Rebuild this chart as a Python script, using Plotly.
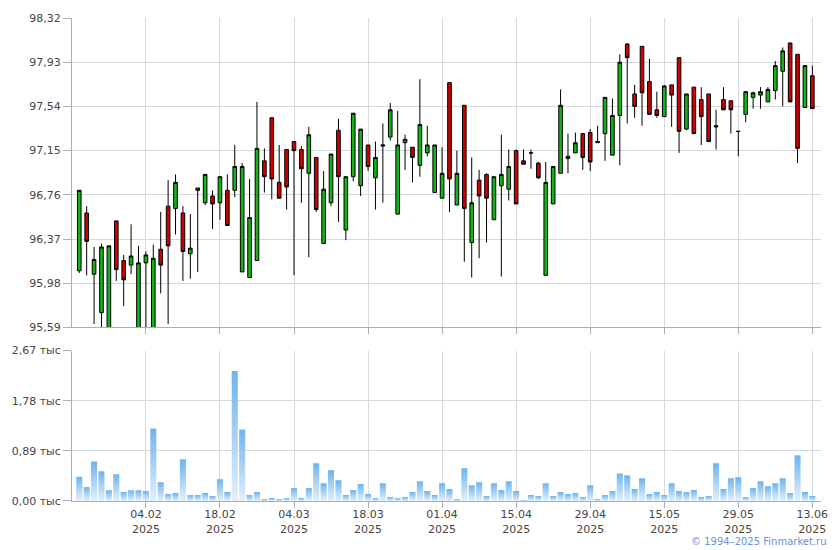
import plotly.graph_objects as go

# ---- data ----
open_ = [96.09, 96.60, 96.06, 95.72, 95.55, 96.53, 96.18, 96.14, 95.55, 96.16,
         95.55, 96.28, 96.66, 96.64, 96.60, 96.24, 96.80, 96.69, 96.75, 96.69,
         96.80, 96.80, 96.08, 96.03, 96.18, 97.06, 97.44, 96.87, 97.16, 97.23,
         97.16, 96.95, 97.09, 96.33, 96.69, 97.33, 96.45, 96.92, 96.84, 97.20,
         96.91, 97.19, 97.27, 96.59, 97.22, 97.18, 97.02, 97.13, 96.78, 96.73,
         97.75, 96.67, 97.55, 96.34, 96.89, 96.94, 96.54, 96.84, 96.81, 97.15,
         97.06, 97.13, 97.04, 96.05, 96.68, 96.95, 97.08, 97.13, 97.30, 97.31,
         97.22, 97.30, 97.11, 97.46, 98.09, 97.65, 98.07, 97.76, 97.51, 97.45,
         97.73, 97.97, 97.34, 97.71, 97.60, 97.65, 97.37, 97.60, 97.59, 97.32,
         97.47, 97.62, 97.64, 97.58, 97.68, 97.85, 98.10, 98.00, 97.53, 97.81]

high = [96.80, 96.66, 96.30, 96.33, 96.31, 96.53, 96.23, 96.50, 96.31, 96.26,
        96.32, 96.61, 96.89, 96.94, 96.66, 96.59, 96.82, 96.94, 96.80, 96.92,
        96.94, 97.20, 97.04, 96.90, 97.58, 97.17, 97.44, 97.20, 97.16, 97.23,
        97.19, 97.36, 97.09, 96.97, 97.12, 97.43, 96.92, 97.48, 97.34, 97.20,
        97.23, 97.39, 97.57, 97.50, 97.29, 97.18, 97.78, 97.37, 97.20, 97.18,
        97.75, 97.15, 97.55, 97.09, 96.98, 96.95, 96.92, 97.29, 97.16, 97.16,
        97.16, 97.16, 97.05, 97.05, 97.01, 97.69, 97.30, 97.31, 97.30, 97.34,
        97.37, 97.62, 97.61, 98.00, 98.10, 97.73, 98.07, 97.96, 97.67, 97.73,
        97.73, 97.97, 97.65, 97.71, 97.71, 97.65, 97.51, 97.71, 97.59, 97.32,
        97.67, 97.67, 97.71, 97.71, 97.94, 98.06, 98.10, 98.00, 97.90, 97.90]

low = [96.07, 96.05, 95.62, 95.50, 95.50, 96.00, 95.78, 96.06, 95.50, 95.50,
       95.50, 95.89, 95.62, 96.41, 96.00, 96.02, 96.08, 96.67, 96.46, 96.54,
       96.49, 96.74, 96.08, 96.03, 96.18, 96.78, 96.72, 96.73, 96.63, 96.05,
       96.69, 96.21, 96.61, 96.33, 96.66, 96.52, 96.36, 96.88, 96.75, 96.97,
       96.63, 96.69, 97.24, 96.59, 96.98, 96.87, 96.92, 97.10, 96.78, 96.73,
       96.61, 96.67, 96.17, 96.03, 96.20, 96.34, 96.54, 96.04, 96.71, 96.68,
       97.03, 96.99, 96.90, 96.05, 96.68, 96.95, 96.95, 97.13, 96.98, 96.97,
       97.22, 97.06, 97.11, 97.02, 97.39, 97.44, 97.37, 97.47, 97.44, 97.45,
       97.36, 97.13, 97.33, 97.30, 97.20, 97.23, 97.16, 97.51, 97.30, 97.10,
       97.40, 97.52, 97.52, 97.58, 97.60, 97.54, 97.58, 97.04, 97.53, 97.52]

close = [96.80, 96.35, 96.19, 96.30, 96.31, 96.10, 96.01, 96.22, 96.16, 96.23,
         96.20, 96.14, 96.31, 96.87, 96.26, 96.29, 96.82, 96.94, 96.68, 96.92,
         96.49, 97.01, 97.01, 96.56, 97.17, 96.92, 96.90, 96.73, 96.83, 97.15,
         96.99, 97.29, 96.63, 96.81, 97.12, 96.92, 96.92, 97.48, 97.34, 97.01,
         97.09, 97.20, 97.51, 97.20, 97.25, 97.09, 97.38, 97.20, 97.20, 96.95,
         96.90, 96.95, 96.64, 96.69, 96.75, 96.73, 96.92, 96.94, 97.01, 96.68,
         97.03, 97.13, 96.91, 96.87, 97.01, 97.55, 97.10, 97.22, 97.09, 97.05,
         97.23, 97.62, 97.46, 97.93, 97.97, 97.54, 97.66, 97.47, 97.46, 97.72,
         97.64, 97.32, 97.65, 97.30, 97.45, 97.23, 97.36, 97.51, 97.51, 97.32,
         97.67, 97.66, 97.67, 97.69, 97.90, 98.03, 97.58, 97.17, 97.90, 97.52]

volume_k = [0.43, 0.25, 0.70, 0.53, 0.19, 0.475, 0.16, 0.19, 0.19, 0.176,
            1.285, 0.334, 0.123, 0.14, 0.74, 0.106, 0.106, 0.14, 0.088, 0.387,
            0.158, 2.306, 1.267, 0.106, 0.158, 0.035, 0.053, 0.035, 0.053, 0.23,
            0.053, 0.23, 0.67, 0.317, 0.546, 0.37, 0.106, 0.194, 0.30, 0.123,
            0.053, 0.317, 0.07, 0.053, 0.07, 0.158, 0.352, 0.176, 0.106, 0.317,
            0.211, 0.035, 0.58, 0.28, 0.334, 0.088, 0.317, 0.194, 0.352, 0.176,
            0.018, 0.106, 0.088, 0.317, 0.088, 0.158, 0.123, 0.14, 0.07, 0.28,
            0.035, 0.106, 0.176, 0.49, 0.458, 0.211, 0.405, 0.123, 0.158, 0.106,
            0.317, 0.176, 0.158, 0.194, 0.07, 0.088, 0.67, 0.211, 0.405, 0.422,
            0.07, 0.229, 0.352, 0.264, 0.317, 0.405, 0.14, 0.81, 0.158, 0.088]

# every 10th trading day (starting at day 10) is labelled
date_labels = ["04.02", "18.02", "04.03", "18.03", "01.04",
               "15.04", "29.04", "15.05", "29.05", "13.06"]
year_label = "2025"
price_ticks = [95.59, 95.98, 96.37, 96.76, 97.15, 97.54, 97.93, 98.32]
volume_ticks = [0.00, 0.89, 1.78, 2.67]
volume_tick_labels = ["0,00 тыс", "0,89 тыс", "1,78 тыс", "2,67 тыс"]

# ---- figure ----
n = len(close)
days = list(range(n))
tick_pos = [9 + 10 * k for k in range(len(date_labels))]
tick_txt = [f"{d}<br>{year_label}" for d in date_labels]

GRID = "#d4d9de"
AXIS = "#a9aeb8"
xr = [-0.98, 100.17]

fig = go.Figure()
fig.add_trace(go.Candlestick(
    x=days, open=open_, high=high, low=low, close=close,
    increasing=dict(line=dict(color="#000000", width=1), fillcolor="#14b414"),
    decreasing=dict(line=dict(color="#000000", width=1), fillcolor="#cc0000"),
    whiskerwidth=0, showlegend=False, xaxis="x", yaxis="y",
))

half = 0.41
for i, v in enumerate(volume_k):
    fig.add_trace(go.Scatter(
        x=[i - half, i - half, i + half, i + half, i - half],
        y=[0, v, v, 0, 0],
        mode="lines", line=dict(width=0), fill="toself",
        fillgradient=dict(type="vertical",
                          colorscale=[[0, "#e3f0fb"], [1, "#6db4ee"]]),
        showlegend=False, hoverinfo="skip", xaxis="x2", yaxis="y2",
    ))

fig.update_layout(
    width=840, height=550,
    margin=dict(l=71, r=18, t=14, b=49),
    paper_bgcolor="white", plot_bgcolor="white",
    separators=", ",
    font=dict(family="DejaVu Sans", size=11, color="#454545"),
    xaxis=dict(domain=[0, 1], anchor="y", range=xr, tickvals=tick_pos,
               showticklabels=False, ticks="outside", ticklen=6, tickcolor=AXIS,
               showgrid=True, gridcolor=GRID, showline=True, linecolor=AXIS,
               zeroline=False, rangeslider=dict(visible=False)),
    yaxis=dict(domain=[0.3593, 1], anchor="x", range=[95.59, 98.32],
               tickvals=price_ticks, tickformat=".2f", ticks="outside",
               ticklen=8, tickcolor=AXIS, showgrid=True, gridcolor=GRID,
               showline=True, linecolor=AXIS, zeroline=False),
    xaxis2=dict(domain=[0, 1], anchor="y2", range=xr, tickvals=tick_pos,
                ticktext=tick_txt, ticks="outside", ticklen=6, tickcolor=AXIS,
                ticklabelstandoff=-3,
                showgrid=True, gridcolor=GRID, showline=True, linecolor=AXIS,
                zeroline=False),
    yaxis2=dict(domain=[0, 0.3115], anchor="x2", range=[0, 2.67],
                tickvals=volume_ticks, ticktext=volume_tick_labels,
                ticks="outside", ticklen=8, tickcolor=AXIS, showgrid=True,
                gridcolor=GRID, showline=True, linecolor=AXIS, zeroline=False),
    annotations=[dict(text="© 1994–2025 Finmarket.ru", xref="paper", yref="paper",
                      x=1.0107, y=-0.083, xanchor="right", yanchor="middle",
                      showarrow=False, font=dict(size=10, color="#6f8fd6"))],
)

fig.write_html(
    "out.html",
    config={"displayModeBar": False},
    post_script="document.body.style.margin='0';document.body.style.overflow='hidden';",
)
